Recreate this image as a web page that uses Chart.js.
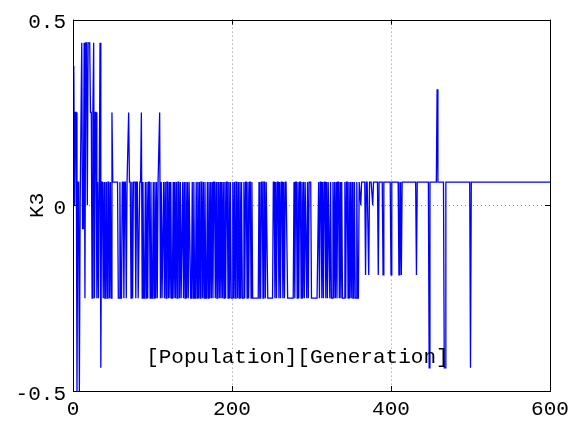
<!DOCTYPE html>
<html>
<head>
<meta charset="utf-8">
<script src="https://cdn.jsdelivr.net/npm/chart.js@4.4.0/dist/chart.umd.min.js"></script>
<style>
html, body { margin: 0; padding: 0; background: #fff; }
</style>
</head>
<body>
<canvas id="k3-chart" width="577" height="428"></canvas>
<script>
// axis ticks + labels
const xTicks = [0, 200, 400, 600]
const yTicks = [-0.5, 0, 0.5]
const yTitle = 'K3'
const note = '[Population][Generation]'
const noteX = 92
const noteY = -0.41

// K3 per generation (1..600)
const k3 = [
  .375,0,.25,.25,-.5,.0625,.0625,-.5,0,0,
  .4375,-.0625,-.0625,.4375,-.25,.4375,.4375,0,.4375,.4375,
  .4375,.25,.25,-.25,.25,.4375,-.25,.25,.25,-.25,
  .0625,-.25,.0625,.4375,-.4375,.0625,.0625,-.25,.0625,-.25,
  -.25,.0625,-.25,.0625,.0625,-.25,.0625,-.25,.25,.0625,
  .0625,.0625,.0625,.0625,.0625,.0625,-.25,-.25,.0625,-.25,
  -.25,.0625,.0625,-.25,.0625,.0625,-.25,.0625,.0625,.25,
  .0625,.0625,-.25,.0625,-.25,.0625,.0625,.0625,-.25,.0625,
  .0625,-.25,-.25,.0625,.0625,.25,-.25,.0625,-.25,-.25,
  .0625,-.25,.0625,-.25,.0625,.0625,-.25,.0625,-.25,-.25,
  .0625,-.25,.0625,-.25,.0625,-.25,.0625,.0625,.25,-.25,
  .0625,-.25,-.25,.0625,-.25,.0625,-.25,.0625,.0625,-.25,
  .0625,-.25,.0625,-.25,-.25,.0625,-.25,.0625,-.25,.0625,
  -.25,.0625,.0625,-.25,.0625,-.25,-.25,.0625,-.25,.0625,
  -.25,.0625,-.25,.0625,-.25,.0625,.0625,-.25,-.25,.0625,
  -.25,.0625,-.25,-.25,.0625,-.25,.0625,-.25,.0625,-.25,
  .0625,.0625,-.25,.0625,-.25,.0625,-.25,-.25,.0625,-.25,
  .0625,-.25,.0625,-.25,.0625,-.25,.0625,.0625,-.25,.0625,
  -.25,-.25,.0625,-.25,.0625,-.25,.0625,-.25,.0625,-.25,
  .0625,-.25,.0625,.0625,-.25,.0625,-.25,.0625,-.25,-.25,
  .0625,-.25,.0625,-.25,.0625,.0625,-.25,.0625,-.25,.0625,
  -.25,.0625,-.25,-.25,.0625,-.25,.0625,.0625,-.25,.0625,
  -.25,.0625,.0625,-.25,.0625,-.25,-.25,-.25,-.25,-.25,
  -.25,-.25,-.25,.0625,-.25,-.25,.0625,.0625,-.25,.0625,
  .0625,-.25,.0625,.0625,-.25,-.25,-.25,-.25,-.25,-.25,
  -.25,.0625,.0625,-.25,.0625,-.25,.0625,.0625,-.25,.0625,
  -.25,.0625,.0625,-.25,.0625,-.25,.0625,.0625,.0625,-.25,
  -.25,-.25,-.25,-.25,-.25,-.25,-.25,.0625,-.25,.0625,
  .0625,-.25,.0625,-.25,.0625,.0625,-.25,.0625,-.25,.0625,
  -.25,.0625,.0625,-.25,.0625,-.25,.0625,.0625,.0625,-.25,
  -.25,-.25,-.25,-.25,-.25,-.25,-.25,-.25,.0625,-.25,
  .0625,.0625,-.25,.0625,-.25,.0625,.0625,-.25,.0625,-.25,
  .0625,.0625,-.25,.0625,-.25,-.25,.0625,-.25,.0625,-.25,
  .0625,-.25,.0625,.0625,-.25,.0625,-.25,.0625,-.25,-.25,
  -.25,.0625,-.25,.0625,.0625,-.25,.0625,-.25,.0625,-.25,
  .0625,-.25,-.25,.0625,-.25,-.25,.0625,-.25,-.25,.0625,
  .0625,0,.0625,.0625,.0625,.0625,.0625,-.1875,.0625,.0625,
  .0625,-.1875,.0625,.0625,.0625,.0625,0,.0625,.0625,.0625,
  .0625,.0625,.0625,-.1875,.0625,.0625,.0625,.0625,.0625,-.1875,
  .0625,.0625,.0625,.0625,.0625,.0625,.0625,.0625,.0625,-.1875,
  .0625,.0625,.0625,.0625,.0625,.0625,.0625,.0625,.0625,-.1875,
  -.1875,.0625,-.1875,.0625,.0625,.0625,.0625,.0625,.0625,.0625,
  .0625,.0625,.0625,.0625,.0625,.0625,.0625,.0625,.0625,.0625,
  .0625,-.1875,.0625,.0625,.0625,.0625,.0625,.0625,.0625,.0625,
  .0625,.0625,.0625,.0625,.0625,.0625,.0625,-.4375,.0625,.0625,
  .0625,.0625,.0625,.0625,.0625,.0625,.0625,.3125,.0625,.0625,
  .0625,.0625,.0625,.0625,.0625,.0625,-.4375,-.4375,.0625,.0625,
  .0625,.0625,.0625,.0625,.0625,.0625,.0625,.0625,.0625,.0625,
  .0625,.0625,.0625,.0625,.0625,.0625,.0625,.0625,.0625,.0625,
  .0625,.0625,.0625,.0625,.0625,.0625,.0625,.0625,.0625,-.4375,
  .0625,.0625,.0625,.0625,.0625,.0625,.0625,.0625,.0625,.0625,
  .0625,.0625,.0625,.0625,.0625,.0625,.0625,.0625,.0625,.0625,
  .0625,.0625,.0625,.0625,.0625,.0625,.0625,.0625,.0625,.0625,
  .0625,.0625,.0625,.0625,.0625,.0625,.0625,.0625,.0625,.0625,
  .0625,.0625,.0625,.0625,.0625,.0625,.0625,.0625,.0625,.0625,
  .0625,.0625,.0625,.0625,.0625,.0625,.0625,.0625,.0625,.0625,
  .0625,.0625,.0625,.0625,.0625,.0625,.0625,.0625,.0625,.0625,
  .0625,.0625,.0625,.0625,.0625,.0625,.0625,.0625,.0625,.0625,
  .0625,.0625,.0625,.0625,.0625,.0625,.0625,.0625,.0625,.0625,
  .0625,.0625,.0625,.0625,.0625,.0625,.0625,.0625,.0625,.0625
]

const monoFont = { family: '"Liberation Mono", "DejaVu Sans Mono", monospace', size: 21 }

// dotted grid only inside the box, edges are covered by the frame
function gridColor(c, lo, hi) {
  if (!c.tick || c.tick.value == lo || c.tick.value == hi) return 'rgba(0,0,0,0)'
  return '#8c8c8c'
}

// matlab style box, inward ticks and the text note
const frame = {
  id: 'frame',
  afterDraw(chart) {
    const { ctx, chartArea: a, scales: { x, y } } = chart
    ctx.save()
    ctx.strokeStyle = '#000'
    ctx.lineWidth = 1
    ctx.strokeRect(Math.round(a.left) + 0.5, Math.round(a.top) + 0.5,
      Math.round(a.right - a.left), Math.round(a.bottom - a.top))
    const tl = 5
    ctx.beginPath()
    x.ticks.forEach(t => {
      const px = Math.round(x.getPixelForValue(t.value)) + 0.5
      ctx.moveTo(px, a.bottom); ctx.lineTo(px, a.bottom - tl)
      ctx.moveTo(px, a.top); ctx.lineTo(px, a.top + tl)
    })
    y.ticks.forEach(t => {
      const py = Math.round(y.getPixelForValue(t.value)) + 0.5
      ctx.moveTo(a.left, py); ctx.lineTo(a.left + tl, py)
      ctx.moveTo(a.right, py); ctx.lineTo(a.right - tl, py)
    })
    ctx.stroke()

    ctx.font = '21px ' + monoFont.family
    ctx.fillStyle = '#000'
    ctx.textAlign = 'left'
    ctx.textBaseline = 'middle'
    ctx.fillText(note, x.getPixelForValue(noteX), y.getPixelForValue(noteY))
    ctx.restore()
  }
}

const chartEle = document.getElementById('k3-chart')
const chart = new Chart(chartEle, {
  type: 'line',
  data: {
    datasets: [{
      data: k3.map((v, i) => ({ x: i + 1, y: v })),
      borderColor: '#0000ff',
      borderWidth: 1.3,
      pointRadius: 0,
      tension: 0,
      fill: false
    }]
  },
  options: {
    responsive: false,
    animation: false,
    layout: { padding: { left: 0, top: 16, right: 27, bottom: 0 } },
    plugins: { legend: { display: false }, tooltip: { enabled: false } },
    scales: {
      x: {
        type: 'linear',
        min: 0,
        max: 600,
        afterBuildTicks: s => { s.ticks = xTicks.map(v => ({ value: v })) },
        afterFit: s => { s.height = 37 },
        grid: { drawTicks: false, color: c => gridColor(c, 0, 600) },
        border: { display: false, dash: [1, 3] },
        ticks: { font: monoFont, color: '#000', padding: 6, maxRotation: 0, callback: v => String(v) }
      },
      y: {
        type: 'linear',
        min: -0.5,
        max: 0.5,
        afterBuildTicks: s => { s.ticks = yTicks.map(v => ({ value: v })) },
        afterFit: s => { s.width = 73 },
        grid: { drawTicks: false, color: c => gridColor(c, -0.5, 0.5) },
        border: { display: false, dash: [1, 3] },
        title: { display: true, text: yTitle, font: monoFont, color: '#000', padding: { top: 25, bottom: 0 } },
        ticks: { font: monoFont, color: '#000', padding: 7, labelOffset: 3, callback: v => String(v) }
      }
    }
  },
  plugins: [frame]
})
</script>
</body>
</html>
